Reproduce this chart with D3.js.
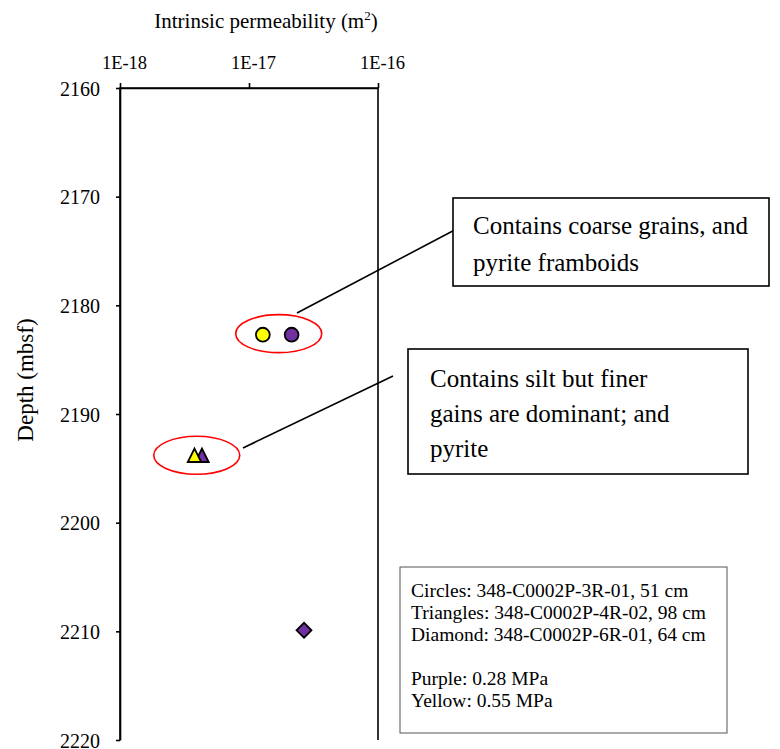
<!DOCTYPE html>
<html>
<head>
<meta charset="utf-8">
<script src="https://cdn.jsdelivr.net/npm/d3@7"></script>
<style>
  html, body { margin: 0; padding: 0; background: #fff; }
  svg { display: block; }
  svg text { font-family: "Liberation Serif", "Times New Roman", Times, "DejaVu Serif", serif !important; fill: #000; }
</style>
</head>
<body>
<svg id="chart" width="780" height="749"></svg>
<script>
// Permeability measurements (m^2) versus depth (mbsf)
const sampleIds    = ["3R-01 / 0.28 MPa", "3R-01 / 0.55 MPa", "4R-02 / 0.28 MPa", "4R-02 / 0.55 MPa", "6R-01 / 0.28 MPa"];
const shapes       = ["circle", "circle", "triangle", "triangle", "diamond"];
const pressures    = ["purple", "yellow", "purple", "yellow", "purple"];
const permeability = [2.14e-17, 1.28e-17, 4.32e-18, 3.78e-18, 2.67e-17];
const depths       = [2182.7, 2182.7, 2193.8, 2193.8, 2209.9];

const xTicks = [1e-18, 1e-17, 1e-16];
const xTickLabels = ["1E-18", "1E-17", "1E-16"];
const yTicks = [2160, 2170, 2180, 2190, 2200, 2210, 2220];

const colors = { purple: "#7030a0", yellow: "#ffff00" };

const legendLines = [
  "Circles: 348-C0002P-3R-01, 51 cm",
  "Triangles: 348-C0002P-4R-02, 98 cm",
  "Diamond: 348-C0002P-6R-01, 64 cm",
  "",
  "Purple: 0.28 MPa",
  "Yellow: 0.55 MPa"
];

const callouts = [
  { lines: ["Contains coarse grains, and", "pyrite framboids"], group: [0, 1] },
  { lines: ["Contains silt but finer", "gains are dominant; and", "pyrite"], group: [2, 3] }
];

const svg = d3.select("#chart");
const plot = { left: 120, right: 378, top: 88, bottom: 740 };

const x = d3.scaleLog().domain([1e-18, 1e-16]).range([plot.left, plot.right]);
const y = d3.scaleLinear().domain([2160, 2220]).range([plot.top, plot.bottom]);

// frame: left, top, right borders (open at the bottom)
svg.append("path")
  .attr("d", `M${plot.left},${plot.bottom}V${plot.top}H${plot.right}V${plot.bottom}`)
  .attr("fill", "none").attr("stroke", "#000").attr("stroke-width", 1.6);

// top axis
const xAxis = svg.append("g").attr("transform", `translate(0,${plot.top})`)
  .call(d3.axisTop(x).tickValues(xTicks).tickFormat((d, i) => xTickLabels[i]).tickSize(5).tickSizeOuter(0));
xAxis.select(".domain").attr("stroke-width", 1.6);
xAxis.selectAll(".tick line").attr("stroke-width", 1.6);
xAxis.selectAll("text").attr("font-size", 18.5).attr("x", 4).attr("y", -19).attr("dy", 0);

// left axis
const yAxis = svg.append("g").attr("transform", `translate(${plot.left},0)`)
  .call(d3.axisLeft(y).tickValues(yTicks).tickFormat(d3.format("d")).tickSize(4).tickSizeOuter(0));
yAxis.select(".domain").attr("stroke-width", 1.6);
yAxis.selectAll(".tick line").attr("stroke-width", 1.6);
yAxis.selectAll("text").attr("font-size", 20).attr("x", -20).attr("dy", "0.36em");

// axis titles
const xt = svg.append("text").attr("x", 266).attr("y", 28).attr("text-anchor", "middle")
  .attr("font-size", 21);
xt.append("tspan").text("Intrinsic permeability (m");
xt.append("tspan").attr("font-size", 13).attr("dy", -8).text("2");
xt.append("tspan").attr("dy", 8).text(")");

svg.append("text").attr("transform", "translate(33,380) rotate(-90)")
  .attr("text-anchor", "middle").attr("font-size", 23).text("Depth (mbsf)");

// red ellipses around grouped samples
callouts.forEach(c => {
  c.cx = d3.mean(c.group, i => x(permeability[i]));
  c.cy = d3.mean(c.group, i => y(depths[i]));
});
svg.append("ellipse").attr("cx", callouts[0].cx + 1.5).attr("cy", callouts[0].cy - 1).attr("rx", 43).attr("ry", 19)
  .attr("fill", "none").attr("stroke", "#ff0000").attr("stroke-width", 1.6);
svg.append("ellipse").attr("cx", callouts[1].cx - 1.5).attr("cy", callouts[1].cy).attr("rx", 43).attr("ry", 19)
  .attr("fill", "none").attr("stroke", "#ff0000").attr("stroke-width", 1.6);

// leader lines
svg.append("line").attr("x1", 466).attr("y1", 224).attr("x2", 297).attr("y2", 313)
  .attr("stroke", "#000").attr("stroke-width", 1.6);
svg.append("line").attr("x1", 393).attr("y1", 376).attr("x2", 243).attr("y2", 448)
  .attr("stroke", "#000").attr("stroke-width", 1.6);

// markers
const tallTriangle = {
  draw(ctx, size) {
    const h = Math.sqrt(size), w = h * 0.5;
    ctx.moveTo(0, -h / 2);
    ctx.lineTo(w, h / 2);
    ctx.lineTo(-w, h / 2);
    ctx.closePath();
  }
};
const sym = { circle: d3.symbolCircle, triangle: tallTriangle, diamond: d3.symbolSquare };
const symSize = { circle: 150, triangle: 180, diamond: 112 };
const order = [1, 0, 2, 3, 4];
svg.append("g").selectAll("path").data(order).join("path")
  .attr("d", i => d3.symbol().type(sym[shapes[i]]).size(symSize[shapes[i]])())
  .attr("transform", i => {
    const px = x(permeability[i]), py = y(depths[i]);
    return shapes[i] === "diamond" ? `translate(${px},${py}) rotate(45)` : `translate(${px},${py})`;
  })
  .attr("fill", i => colors[pressures[i]])
  .attr("stroke", "#000").attr("stroke-width", 1.8).attr("stroke-linejoin", "miter");

// callout boxes
function textBox(bx, by, bw, bh, lines, tx, ty0, dy, fs) {
  svg.append("rect").attr("x", bx).attr("y", by).attr("width", bw).attr("height", bh)
    .attr("fill", "#fff").attr("stroke", "#000").attr("stroke-width", 1.6);
  lines.forEach((t, k) => {
    svg.append("text").attr("x", tx).attr("y", ty0 + k * dy).attr("font-size", fs).text(t);
  });
}
textBox(453, 198, 316, 88, callouts[0].lines, 473, 234, 37, 25);
textBox(408, 349, 340, 125, callouts[1].lines, 430, 387, 35, 25);

// legend box
svg.append("rect").attr("x", 400).attr("y", 567).attr("width", 327).attr("height", 166)
  .attr("fill", "#fff").attr("stroke", "#555").attr("stroke-width", 1);
legendLines.forEach((t, k) => {
  svg.append("text").attr("x", 411).attr("y", 597 + k * 22).attr("font-size", 19.5).text(t);
});
</script>
</body>
</html>
